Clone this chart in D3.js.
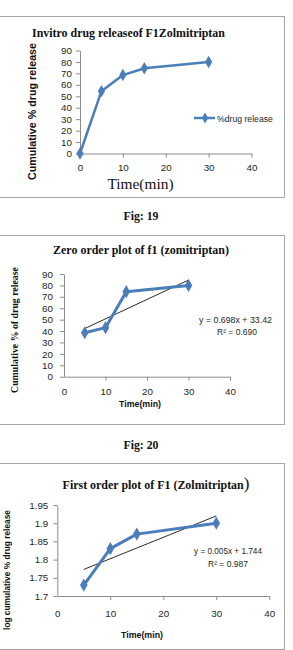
<!DOCTYPE html>
<html><head><meta charset="utf-8">
<script src="https://cdn.jsdelivr.net/npm/d3@7"></script>
<style>body{margin:0;background:#fff;}svg{display:block;}</style>
</head><body>
<svg id="c" width="293" height="650"></svg>
<script>
// ---- data ----
const xTicks = [0, 10, 20, 30, 40];
const yTicksPct = [0, 10, 20, 30, 40, 50, 60, 70, 80, 90];
const yTicksLog = [1.7, 1.75, 1.8, 1.85, 1.9, 1.95];
const yTickLabelsLog = ["1.7", "1.75", "1.8", "1.85", "1.9", "1.95"];

const releaseTime = [0, 5, 10, 15, 30];
const releasePct = [0, 54.5, 68.5, 74.5, 80];

const zeroTime = [5, 10, 15, 30];
const zeroPct = [38.5, 43, 74.5, 80];
const zeroTrendX = [5, 30];
const zeroTrendY = [42.2, 84.7];

const firstTime = [5, 10, 15, 30];
const firstLog = [1.73, 1.83, 1.87, 1.90];
const firstTrendX = [5, 30];
const firstTrendY = [1.773, 1.920];

const titles = ["Invitro drug releaseof F1Zolmitriptan", "Zero order plot of f1 (zomitriptan)", "First order plot of F1 (Zolmitriptan"];
const yTitles = ["Cumulative % drug release", "Cumulative % of drug release", "log cumulative % drug release"];
const legendLabel = "%drug release";
const eq2 = ["y = 0.698x + 33.42", "R² = 0.690"];
const eq3 = ["y = 0.005x + 1.744", "R² = 0.987"];
const figLabels = ["Fig: 19", "Fig: 20"];

// ---- drawing ----
const svg = d3.select("#c");
const BLUE = "#4a7ebb", AX = "#8c8c8c", SANS = "'Liberation Sans', Arial, sans-serif", SERIF = "'Liberation Serif', 'Times New Roman', serif";

// scale a text's font size so its rendered width matches the target
function fit(sel, target, base) {
  const w = sel.node().getComputedTextLength();
  if (w > 0) sel.style("font-size", (base * target / w).toFixed(2) + "px");
  return sel;
}

function frame(y0, y1) {
  svg.append("rect").attr("x", -1).attr("y", y0 + 0.5).attr("width", 285.5).attr("height", y1 - y0)
    .attr("fill", "none").attr("stroke", "#a6a6a6").attr("stroke-width", 1);
}

function chart(cfg) {
  const x = d3.scaleLinear().domain([0, 40]).range(cfg.xr);
  const y = d3.scaleLinear().domain(cfg.yd).range(cfg.yr);
  const g = svg.append("g");
  const ya = g.append("g").attr("transform", `translate(${cfg.xr[0]},0)`)
    .call(d3.axisLeft(y).tickValues(cfg.yt).tickFormat((d, i) => cfg.yl ? cfg.yl[i] : d).tickSize(4).tickSizeOuter(0).tickPadding(cfg.ypad));
  const xa = g.append("g").attr("transform", `translate(0,${cfg.yr[0]})`)
    .call(d3.axisBottom(x).tickValues(xTicks).tickSize(4).tickSizeOuter(0).tickPadding(cfg.xpad));
  [ya, xa].forEach(a => {
    a.select(".domain").attr("stroke", AX);
    a.selectAll(".tick line").attr("stroke", AX);
    a.selectAll(".tick text").attr("fill", "#262626").style("font-family", SANS).style("font-size", cfg.tfs + "px");
  });
  xa.selectAll(".tick").filter(d => d === 0).select("line").remove();

  if (cfg.trend) {
    g.append("line").attr("x1", x(cfg.trend[0][0])).attr("y1", y(cfg.trend[1][0]))
      .attr("x2", x(cfg.trend[0][1])).attr("y2", y(cfg.trend[1][1]))
      .attr("stroke", "#111").attr("stroke-width", 0.9);
  }
  const pts = cfg.xs.map((d, i) => [d, cfg.ys[i]]);
  g.append("path").datum(pts).attr("fill", "none").attr("stroke", BLUE).attr("stroke-width", cfg.lw)
    .attr("stroke-linejoin", "round")
    .attr("d", d3.line().x(d => x(d[0])).y(d => y(d[1])));
  g.selectAll(".m").data(pts).enter().append("path")
    .attr("transform", d => `translate(${x(d[0])},${y(d[1])})`)
    .attr("d", d3.symbol().type(d3.symbolDiamond).size(cfg.ms)).attr("fill", BLUE);
  return { x, y };
}

function txt(x, y, s, fam, weight, size, target, anchor) {
  const t = svg.append("text").attr("x", x).attr("y", y).attr("text-anchor", anchor || "middle")
    .style("font-family", fam).style("font-weight", weight).style("font-size", size + "px").attr("fill", "#111").text(s);
  if (target) fit(t, target, size);
  return t;
}
function vtxt(cx, cy, s, fam, weight, size, target) {
  const t = svg.append("text").attr("transform", `translate(${cx},${cy}) rotate(-90)`).attr("text-anchor", "middle")
    .style("font-family", fam).style("font-weight", weight).style("font-size", size + "px").attr("fill", "#111").text(s);
  if (target) fit(t, target, size);
  return t;
}

// Chart 1
frame(16, 197);
txt(128.5, 37, titles[0], SERIF, "bold", 12, 193);
chart({ xr: [80, 251.5], yr: [153.5, 50.5], yd: [0, 90], yt: yTicksPct, ypad: 4, xpad: 6.5, tfs: 9.8,
  xs: releaseTime, ys: releasePct, lw: 2.5, ms: 45 });
vtxt(36, 111.5, yTitles[0], SANS, "bold", 11, 137);
txt(140.5, 189, "Time(min)", SERIF, "normal", 13.5, 66);
svg.append("line").attr("x1", 194).attr("x2", 215).attr("y1", 118).attr("y2", 118).attr("stroke", BLUE).attr("stroke-width", 2.5);
svg.append("path").attr("transform", "translate(205,118)").attr("d", d3.symbol().type(d3.symbolDiamond).size(35)).attr("fill", BLUE);
txt(217, 121.5, legendLabel, SANS, "normal", 9.3, 56, "start").attr("fill", "#262626");

txt(141, 220, figLabels[0], SERIF, "bold", 11.5, 35);

// Chart 2
frame(235, 424);
txt(141, 254, titles[1], SERIF, "bold", 12, 176);
chart({ xr: [64, 230], yr: [376.7, 274], yd: [0, 90], yt: yTicksPct, ypad: 7, xpad: 7, tfs: 9.8,
  xs: zeroTime, ys: zeroPct, lw: 3, ms: 50, trend: [zeroTrendX, zeroTrendY] });
vtxt(18, 330, yTitles[1], SERIF, "bold", 10, 126);
txt(140, 406.5, "Time(min)", SANS, "bold", 8, 42);
eq2.forEach((t, i) => txt(i ? 237 : 235.5, 323 + i * 12, t, SANS, "normal", 8.5, i ? 40 : 73).attr("fill", "#262626"));

txt(141, 449, figLabels[1], SERIF, "bold", 11.5, 35);

// Chart 3
frame(463, 649);
const t3 = svg.append("text").attr("x", 156).attr("y", 489).attr("text-anchor", "middle")
  .style("font-family", SERIF).style("font-weight", "bold").style("font-size", "12px").attr("fill", "#111");
t3.append("tspan").text(titles[2]);
t3.append("tspan").style("font-size", "17px").style("font-weight", "normal").text(")");
fit(t3, 187, 12);
t3.select("tspan:last-child").style("font-size", "17px");
chart({ xr: [57.3, 269.3], yr: [596, 505], yd: [1.7, 1.95], yt: yTicksLog, yl: yTickLabelsLog, ypad: 5, xpad: 10.5, tfs: 9.8,
  xs: firstTime, ys: firstLog, lw: 3, ms: 50, trend: [firstTrendX, firstTrendY] });
vtxt(10, 570, yTitles[2], SANS, "bold", 8, 120);
txt(142, 638, "Time(min)", SANS, "bold", 8, 42);
eq3.forEach((t, i) => txt(228, 554 + i * 13, t, SANS, "normal", 8.5, i ? 40 : 68).attr("fill", "#262626"));
</script>
</body></html>
